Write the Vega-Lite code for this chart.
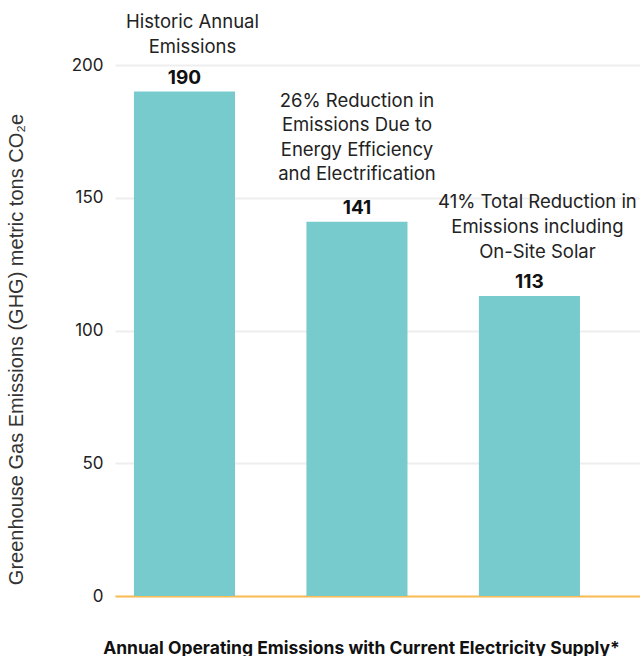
{
  "$schema": "https://vega.github.io/schema/vega-lite/v6.json",
  "width": 525,
  "height": 531,
  "autosize": {"type": "none"},
  "padding": {"left": 115, "top": 65, "right": 0, "bottom": 60},
  "background": "white",
  "config": {"view": {"stroke": null}, "font": "Inter"},
  "data": {
    "values": [
      {"cat": "Historic", "value": 190, "note": ["Historic Annual", "Emissions"]},
      {"cat": "Efficiency", "value": 141, "note": ["26% Reduction in", "Emissions Due to", "Energy Efficiency", "and Electrification"]},
      {"cat": "Solar", "value": 113, "note": ["41% Total Reduction in", "Emissions including", "On-Site Solar"]}
    ]
  },
  "encoding": {
    "x": {
      "field": "cat",
      "type": "nominal",
      "sort": null,
      "scale": {"paddingInner": 0.414, "paddingOuter": 0.229, "align": 0.24},
      "axis": {
        "title": "Annual Operating Emissions with Current Electricity Supply*",
        "titleFont": "Inter",
        "titleFontSize": 17.5,
        "titleFontWeight": "bold",
        "titleColor": "#111111",
        "titleX": 246,
        "titleY": 57,
        "titleBaseline": "alphabetic",
        "titleAnchor": null,
        "titleAlign": "center",
        "labels": false,
        "ticks": false,
        "domain": true,
        "domainColor": "#fbbd52",
        "domainWidth": 2,
        "grid": false
      }
    },
    "y": {
      "field": "value",
      "type": "quantitative",
      "scale": {"domain": [0, 200], "nice": false},
      "axis": {
        "values": [0, 50, 100, 150, 200],
        "title": "Greenhouse Gas Emissions (GHG) metric tons CO₂e",
        "titleFont": "Liberation Sans",
        "titleFontSize": 20,
        "titleFontWeight": "normal",
        "titleColor": "#333333",
        "titleAngle": -90,
        "titleX": -99,
        "titleY": 284,
        "titleAlign": "center",
        "titleBaseline": "middle",
        "domain": false,
        "ticks": false,
        "labelPadding": 12,
        "labelFont": "Inter",
        "labelFontSize": 17,
        "labelColor": "#222222",
        "grid": true,
        "gridColor": "#eeeeee",
        "gridWidth": 2
      }
    }
  },
  "layer": [
    {"mark": {"type": "bar", "color": "#78cbcd"}},
    {
      "mark": {"type": "text", "fontSize": 19, "fontWeight": "bold", "color": "#111111", "baseline": "alphabetic", "dy": -8},
      "encoding": {"text": {"field": "value", "type": "quantitative"}}
    },
    {
      "transform": [{"filter": "datum.cat == 'Historic'"}],
      "mark": {"type": "text", "fontSize": 18.5, "color": "#222222", "baseline": "alphabetic", "lineHeight": 25, "dy": -64, "dx": 8},
      "encoding": {"text": {"field": "note"}}
    },
    {
      "transform": [{"filter": "datum.cat == 'Efficiency'"}],
      "mark": {"type": "text", "fontSize": 18.5, "color": "#222222", "baseline": "alphabetic", "lineHeight": 24.5, "dy": -115},
      "encoding": {"text": {"field": "note"}}
    },
    {
      "transform": [{"filter": "datum.cat == 'Solar'"}],
      "mark": {"type": "text", "fontSize": 18.5, "color": "#222222", "baseline": "alphabetic", "lineHeight": 25, "dy": -88, "dx": 8},
      "encoding": {"text": {"field": "note"}}
    }
  ]
}
